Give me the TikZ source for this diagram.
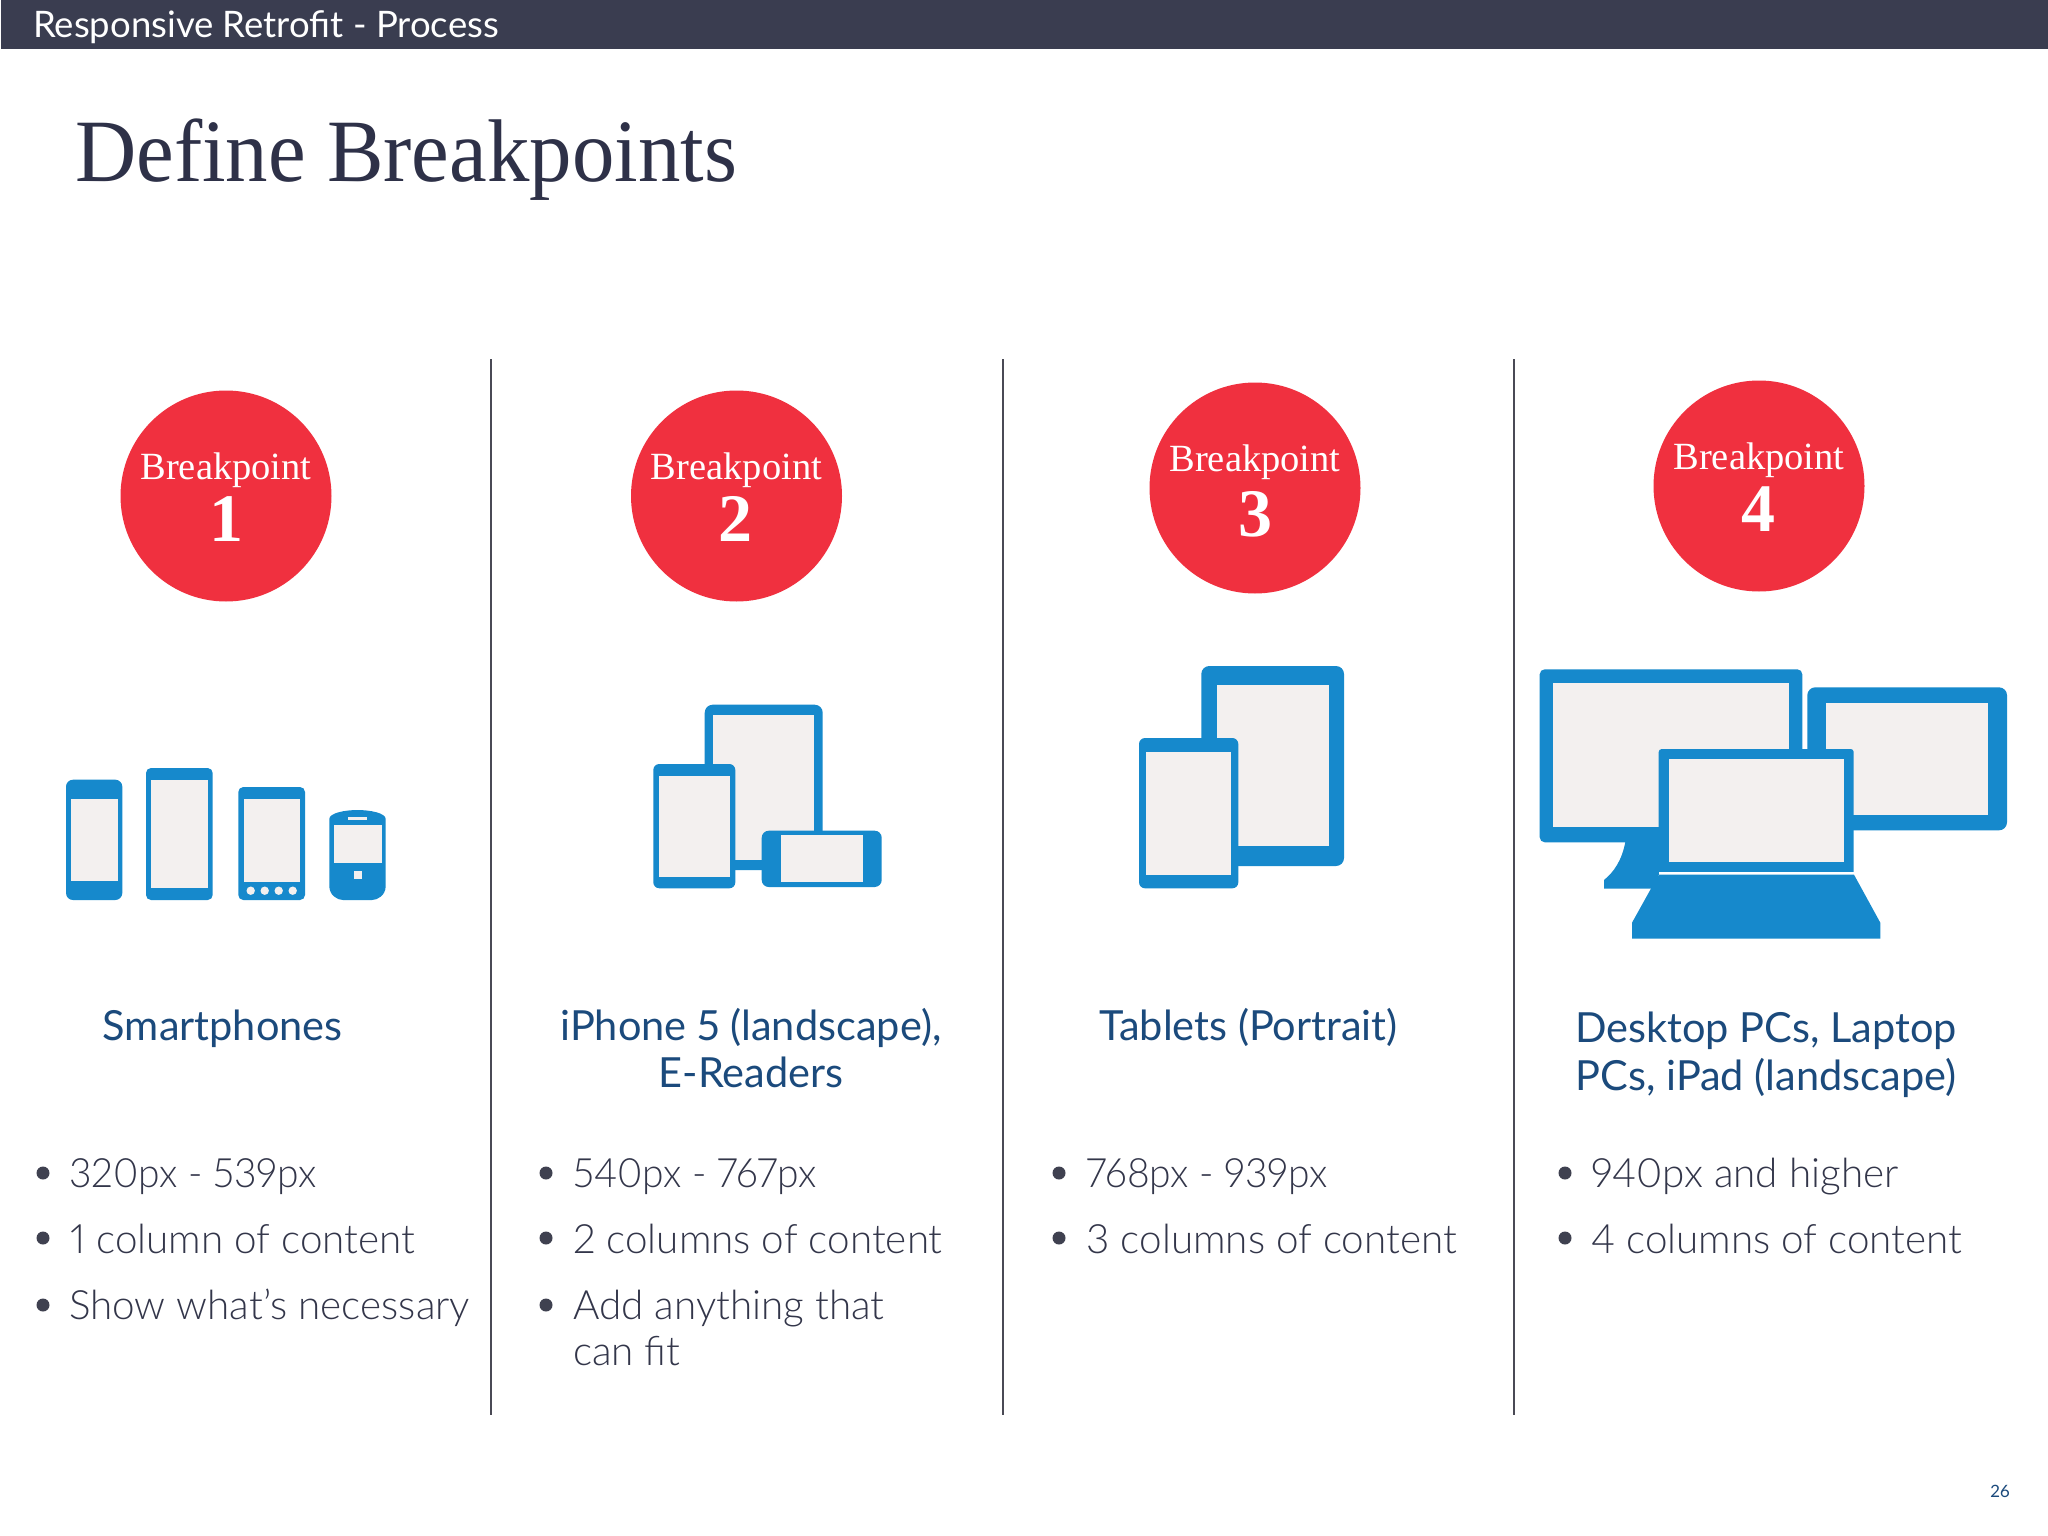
\documentclass[tikz,border=0pt]{standalone}
\usepackage{fontspec}
\setmainfont{Lato}[Numbers=Proportional]
\newfontfamily\lightface{Lato Light}[Numbers=Proportional]
\newfontfamily\numface{Lato Light}[Numbers=Proportional,FakeStretch=0.965]
\newfontfamily\serifface{Liberation Serif}
\newfontfamily\titleface{Liberation Serif}[FakeStretch=0.953]
\definecolor{barcol}{HTML}{3A3D50}
\definecolor{titlecol}{HTML}{2E3148}
\definecolor{rulecol}{HTML}{4A4A55}
\definecolor{redcol}{HTML}{F0303F}
\definecolor{devcol}{HTML}{1689CC}
\definecolor{screencol}{HTML}{F3F0EF}
\definecolor{labelcol}{HTML}{1B4A7C}
\definecolor{bodycol}{HTML}{3F4150}
\definecolor{itemcol}{HTML}{33364A}
\tikzset{
  x=1pt,y=-1pt,
  body/.style={fill=devcol,draw=none},
  scr/.style={fill=screencol,draw=none},
  vrule/.style={draw=rulecol,line width=2pt},
  bpcircle/.style={circle,fill=redcol,minimum size=211pt,inner sep=0pt},
  bpword/.style={anchor=base,text=white,font=\serifface\fontsize{38.5}{38.5}\selectfont},
  bpnum/.style={anchor=base,text=white,font=\serifface\bfseries\fontsize{68}{68}\selectfont},
  devlabel/.style={anchor=base,text=labelcol,font=\fontsize{41.5}{41.5}\selectfont},
  item/.style={anchor=base west,text=itemcol,font=\lightface\fontsize{40.4}{40.4}\selectfont},
  numitem/.style={anchor=base west,text=itemcol,font=\numface\fontsize{40.4}{40.4}\selectfont},
  dotm/.style={circle,fill=bodycol,minimum size=13pt,inner sep=0pt},
}
\newcommand{\rbox}[6]{\fill[#1,rounded corners=#6pt] (#2,#3) rectangle (#4,#5);}
\begin{document}
\begin{tikzpicture}
\useasboundingbox (0,0) rectangle (2048,1536);
\fill[white] (0,0) rectangle (2048,1536);
\fill[barcol] (1,0) rectangle (2048,49);
\node[anchor=base west,text=white,font=\fontsize{36.5}{36.5}\selectfont,inner sep=0pt] (head) at (33,38) {Responsive Retrofit - Process};
\node[anchor=base west,text=titlecol,font=\titleface\fontsize{89}{89}\selectfont,inner sep=0pt] (title) at (75,181) {Define Breakpoints};
% rules
\coordinate (ra1) at (491,359); \coordinate (ra2) at (491,1415);
\coordinate (rb1) at (1003,359); \coordinate (rb2) at (1003,1415);
\coordinate (rc1) at (1514,359); \coordinate (rc2) at (1514,1415);
\draw[vrule] (ra1)--(ra2); \draw[vrule] (rb1)--(rb2); \draw[vrule] (rc1)--(rc2);
% circles
\node[bpcircle] (c1) at (226,496) {};
\node[bpcircle] (c2) at (736.5,496) {};
\node[bpcircle] (c3) at (1255,488) {};
\node[bpcircle] (c4) at (1759,486) {};
\node[bpword,inner sep=0pt] (w1) at (226,479.3) {Breakpoint};
\node[bpword,inner sep=0pt] (w2) at (736.5,479.3) {Breakpoint};
\node[bpword,inner sep=0pt] (w3) at (1255,471) {Breakpoint};
\node[bpword,inner sep=0pt] (w4) at (1759,469.3) {Breakpoint};
\node[bpnum,inner sep=0pt] (n1) at (226,541.7) {1};
\node[bpnum,inner sep=0pt] (n2) at (735.3,541.7) {2};
\node[bpnum,inner sep=0pt] (n3) at (1255,536) {3};
\node[bpnum,inner sep=0pt] (n4) at (1758,531.7) {4};
% column 1 devices
\rbox{body}{66}{779.7}{122.3}{900}{7}
\fill[scr] (70.7,799) rectangle (118,881);
\rbox{body}{146}{768}{212.7}{900}{5}
\fill[scr] (151,779.7) rectangle (207.7,888.3);
\rbox{body}{238.3}{787}{305}{900}{5}
\fill[scr] (243.7,799.3) rectangle (300,882);
\foreach \dx in {250.7,264.7,278.7,292.7} \fill[screencol] (\dx,890.7) circle (4.2);
\fill[body] (329.3,819) .. controls (329.3,813) and (345,810) .. (357.5,810) .. controls (370,810) and (385.7,813) .. (385.7,819) -- (385.7,886) .. controls (385.7,895) and (378,900) .. (372,900) -- (343,900) .. controls (337,900) and (329.3,895) .. (329.3,886) -- cycle;
\fill[scr] (333.7,825) rectangle (381.7,862.7);
\fill[screencol] (348,817.3) rectangle (367,819.7);
\fill[screencol] (353.7,871.3) rectangle (362.3,879.3);
% column 2 devices
\rbox{body}{704.7}{704.7}{822.7}{870}{8}
\fill[scr] (713.3,714.7) rectangle (814.3,860);
\rbox{body}{653.3}{764}{735.3}{888.3}{6}
\fill[scr] (659.3,776) rectangle (730.3,877);
\rbox{body}{761.7}{830.7}{881.7}{887}{7}
\fill[scr] (780.7,835) rectangle (863,882.3);
% column 3 devices
\rbox{body}{1201.3}{666}{1344}{866}{8}
\fill[scr] (1216.7,685.3) rectangle (1328.7,846.3);
\rbox{body}{1139}{738}{1238.3}{888.3}{6}
\fill[scr] (1146,752) rectangle (1231.3,874.7);
% column 4 devices
\rbox{body}{1539.7}{669.3}{1802.3}{842.3}{5}
\fill[scr] (1553,682.7) rectangle (1789,827.3);
\fill[body] (1625.3,842) .. controls (1622,860) and (1614,872) .. (1604,880) -- (1604,888.7) -- (1662,888.7) -- (1662,842) -- cycle;
\rbox{body}{1807.3}{687.3}{2007}{830.3}{8}
\fill[scr] (1826.3,702.7) rectangle (1987.7,814.7);
\rbox{body}{1658.7}{749}{1853.7}{880}{3}
\fill[scr] (1669.3,758.7) rectangle (1843.7,862.3);
\fill[white] (1658.7,871.7) rectangle (1853.7,874.7);
\fill[white] (1658,874.7) rectangle (1856,881);
\fill[body] (1658.7,874.7) -- (1854,874.7) -- (1880.3,922.7) -- (1880.3,938.7) -- (1632,938.7) -- (1632,922.7) -- cycle;
% labels
\node[devlabel,inner sep=0pt] (l1) at (222.7,1040) {Smartphones};
\node[devlabel,inner sep=0pt] (l2a) at (751,1040) {iPhone 5 (landscape),};
\node[devlabel,inner sep=0pt] (l2b) at (751,1087) {E-Readers};
\node[devlabel,inner sep=0pt] (l3) at (1248.5,1040) {Tablets (Portrait)};
\node[devlabel,inner sep=0pt] (l4a) at (1766,1042) {Desktop PCs, Laptop};
\node[devlabel,inner sep=0pt] (l4b) at (1766,1090) {PCs, iPad (landscape)};
% bullets column 1
\node[dotm] (d11) at (43,1173) {}; \node[numitem,inner sep=0pt] (t11) at (69,1187) {320px - 539px};
\node[dotm] (d12) at (43,1238) {}; \node[item,inner sep=0pt] (t12) at (70,1253) {1 column of content};
\node[dotm] (d13) at (43,1305) {}; \node[item,inner sep=0pt] (t13) at (69,1319) {Show what’s necessary};
% column 2
\node[dotm] (d21) at (546,1173) {}; \node[numitem,inner sep=0pt] (t21) at (573,1187) {540px - 767px};
\node[dotm] (d22) at (546,1238) {}; \node[item,inner sep=0pt] (t22) at (573,1253) {2 columns of content};
\node[dotm] (d23) at (546,1305) {}; \node[item,inner sep=0pt] (t23) at (573,1319) {Add anything that};
\node[item,inner sep=0pt] (t24) at (573,1365) {can fit};
% column 3
\node[dotm] (d31) at (1059,1173) {}; \node[numitem,inner sep=0pt] (t31) at (1086.5,1187) {768px - 939px};
\node[dotm] (d32) at (1059,1238) {}; \node[item,inner sep=0pt] (t32) at (1086.5,1253) {3 columns of content};
% column 4
\node[dotm] (d41) at (1565,1173) {}; \node[item,inner sep=0pt] (t41) at (1591,1187) {940px and higher};
\node[dotm] (d42) at (1565,1238) {}; \node[item,inner sep=0pt] (t42) at (1591,1253) {4 columns of content};
\node[anchor=base,text=labelcol,font=\fontsize{17}{17}\selectfont,inner sep=0pt] (pg) at (2000,1497) {26};
\end{tikzpicture}
\end{document}
